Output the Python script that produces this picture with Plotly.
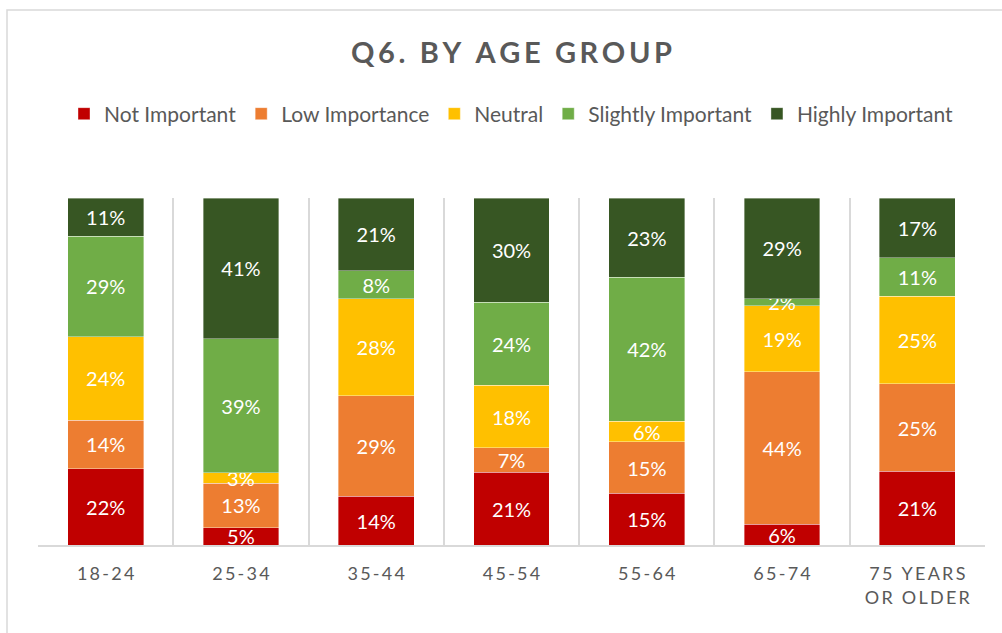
import plotly.graph_objects as go

categories = ["18-24", "25-34", "35-44", "45-54", "55-64", "65-74", "75 YEARS OR OLDER"]
tick_labels = ["18-24", "25-34", "35-44", "45-54", "55-64", "65-74", "75 YEARS<br>OR OLDER"]

series_names = ["Not Important", "Low Importance", "Neutral", "Slightly Important", "Highly Important"]
not_important = [22, 5, 14, 21, 15, 6, 21]
low_importance = [14, 13, 29, 7, 15, 44, 25]
neutral = [24, 3, 28, 18, 6, 19, 25]
slightly_important = [29, 39, 8, 24, 42, 2, 11]
highly_important = [11, 41, 21, 30, 23, 29, 17]
series_values = [not_important, low_importance, neutral, slightly_important, highly_important]
colors = ["#C00000", "#ED7D31", "#FFC000", "#70AD47", "#375623"]

FONT = "Lato"
GRAY = "#595959"
THIN = "\u2009"


def spaced(s):
    parts = s.split("<br>")
    return "<br>".join(THIN.join(list(p)) for p in parts)


fig = go.Figure()
for name, vals, col in zip(series_names, series_values, colors):
    fig.add_trace(go.Bar(
        name=name,
        x=categories,
        y=vals,
        text=vals,
        texttemplate="%{text}%",
        textposition="inside",
        insidetextanchor="middle",
        textangle=0,
        constraintext="none",
        textfont=dict(family=FONT, size=20, color="white"),
        marker=dict(color=col, line=dict(color="rgba(255,255,255,0.5)", width=0.75)),
        hoverinfo="skip",
    ))

W, H = 1002, 633
L, R, T, B = 38, 985, 198, 545
pw, ph = R - L, B - T


def px_x(x):
    return (x - L) / pw


def px_y(y):
    return (B - y) / ph


fig.update_layout(
    width=W, height=H,
    barmode="stack",
    barnorm="percent",
    bargap=0.44,
    paper_bgcolor="white",
    plot_bgcolor="white",
    margin=dict(l=L, r=W - R, t=T, b=H - B, pad=0),
    title=dict(
        text="<b>" + spaced("Q6. BY AGE GROUP") + "</b>",
        font=dict(family=FONT, size=29, color=GRAY),
        x=0.5, xanchor="center", xref="paper",
        y=1 - 53 / H, yanchor="middle", yref="container",
    ),
    legend=dict(
        orientation="h",
        x=0.5, xanchor="center",
        y=px_y(114), yanchor="middle",
        font=dict(family=FONT, size=21, color=GRAY),
        traceorder="normal",
        itemwidth=30,
        bgcolor="rgba(0,0,0,0)",
    ),
    showlegend=True,
    xaxis=dict(
        type="category",
        tickmode="array",
        tickvals=categories,
        ticktext=[spaced(t) for t in tick_labels],
        tickson="boundaries",
        ticks="",
        showgrid=True,
        gridcolor="#D9D9D9",
        gridwidth=1.5,
        showline=True,
        linecolor="#D9D9D9",
        linewidth=1.5,
        tickfont=dict(family=FONT, size=18, color=GRAY),
        ticklabelstandoff=12,
        range=[-0.5, 6.5],
    ),
    yaxis=dict(
        range=[0, 100],
        showgrid=False,
        showticklabels=False,
        zeroline=False,
        showline=False,
        ticks="",
    ),
    shapes=[dict(
        type="rect", xref="paper", yref="paper",
        x0=px_x(7), x1=px_x(1010), y0=px_y(650), y1=px_y(10),
        line=dict(color="#D9D9D9", width=1.5),
        fillcolor="rgba(0,0,0,0)", layer="below",
    )],
)

fig.write_html(
    "out.html",
    config={"displayModeBar": False},
    post_script="document.body.style.margin='0';document.body.style.padding='0';",
)
